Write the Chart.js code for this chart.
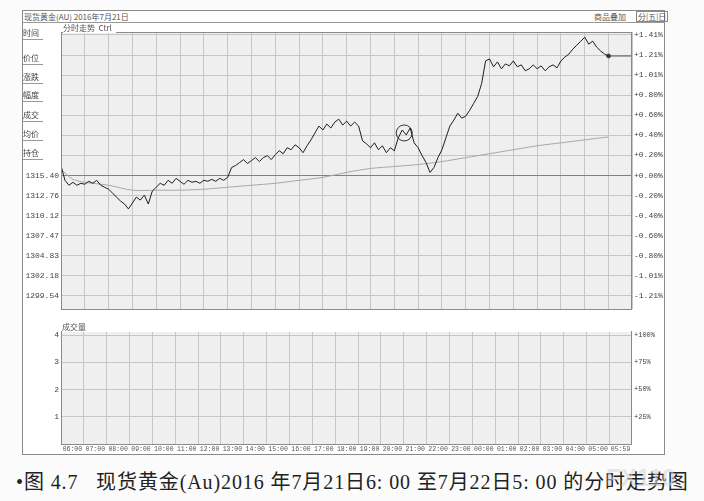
<!DOCTYPE html>
<html><head><meta charset="utf-8">
<script src="https://cdn.jsdelivr.net/npm/chart.js@4.4.0/dist/chart.umd.min.js"></script>
<style>
html,body{margin:0;padding:0;background:#fbfbfb;width:704px;height:501px;overflow:hidden;font-family:"Noto Sans CJK SC",sans-serif;color:#333;}
.a{position:absolute;}
#frame{left:22px;top:10px;width:643px;height:445px;border:1px solid #8a8a8a;box-sizing:border-box;background:#fff;}
.hdr{font-size:8px;line-height:10px;color:#555;white-space:nowrap;}
.side{left:23px;font-size:8px;line-height:9px;color:#444;}
.side:after{content:"";position:absolute;left:0;top:11px;width:20px;border-top:1px solid #999;}
#caption{left:16px;top:471px;font-size:20px;line-height:23px;color:#222;white-space:nowrap;font-family:"Liberation Serif","Noto Sans CJK SC",serif;letter-spacing:0.9px;}
</style></head><body>
<div id="frame" class="a"></div>
<div class="a" style="left:22px;top:22px;width:643px;border-top:1px solid #999;"></div>
<div class="a hdr" style="left:24px;top:12px;">现货黄金(AU) 2016年7月21日</div>
<div class="a hdr" style="left:594px;top:12px;">商品叠加</div>
<div class="a hdr" style="left:636px;top:11px;border:1px solid #888;padding:0 1px;line-height:9px;">分|五|日</div>
<canvas id="pc" class="a" width="643" height="296" style="left:22px;top:22px;"></canvas>
<canvas id="vc" class="a" width="643" height="137" style="left:22px;top:318px;"></canvas>
<div class="a" style="left:23px;top:23px;width:38px;height:147px;background:#fff;"></div>
<div class="a side" style="top:28px;">时间</div>
<div class="a side" style="top:53px;">价位</div>
<div class="a side" style="top:72px;">涨跌</div>
<div class="a side" style="top:90px;">幅度</div>
<div class="a side" style="top:110px;">成交</div>
<div class="a side" style="top:129px;">均价</div>
<div class="a side" style="top:148px;">持仓</div>
<div class="a hdr" style="left:63px;top:23px;background:#fff;padding-right:4px;">分时走势 &nbsp;Ctrl</div>
<div class="a hdr" style="left:62px;top:322px;background:#fff;width:569px;">成交量</div>
<div id="caption" class="a">•图 4.7 &nbsp;&nbsp;现货黄金(Au)2016 年7月21日6: 00 至7月22日5: 00 的分时走势图</div>
<div class="a" style="left:606px;top:464px;font:bold 24px 'Liberation Sans',sans-serif;color:rgba(210,210,210,0.55);">FX110</div>
<script>
// ---- data ----
const basePrice = 1315.40;
const priceStep = 2.643;           // one grid row
const priceTickLabels = ['1315.40','1312.76','1310.12','1307.47','1304.83','1302.18','1299.54'];
const pctTickLabels = ['+1.41%','+1.21%','+1.01%','+0.80%','+0.60%','+0.40%','+0.20%','+0.00%','-0.20%','-0.40%','-0.60%','-0.80%','-1.01%','-1.21%'];
const hourLabels = ['06:00','07:00','08:00','09:00','10:00','11:00','12:00','13:00','14:00','15:00','16:00','17:00','18:00','19:00','20:00','21:00','22:00','23:00','00:00','01:00','02:00','03:00','04:00','05:00','05:59'];
const hourTickMinutes = [0,60,120,180,240,300,360,420,480,540,600,660,720,780,840,900,960,1020,1080,1140,1200,1260,1320,1380,1439];
const volTickLabels = ['1','2','3','4'];
const volPctLabels = ['+25%','+50%','+75%','+100%'];
const sampleMinutes = 10; // price sampled every 10 minutes from 06:00
const price = [
1316.70,1314.75,1314.10,1314.49,1314.10,1314.36,1314.23,1314.62,1314.36,1314.75,
1314.10,1313.84,1313.58,1313.06,1312.54,1312.02,1311.63,1310.98,1311.76,1312.54,
1312.15,1312.80,1311.63,1313.32,1313.84,1314.36,1314.10,1314.75,1314.36,1315.01,
1314.62,1314.23,1314.75,1314.49,1314.62,1314.36,1314.75,1314.62,1314.88,1314.62,
1315.01,1314.75,1315.14,1316.44,1316.70,1317.09,1317.48,1316.96,1317.35,1317.74,
1317.22,1317.74,1318.00,1317.48,1318.13,1318.65,1318.26,1319.04,1318.78,1319.43,
1319.04,1318.39,1319.30,1320.08,1320.99,1321.90,1321.38,1322.16,1321.64,1322.42,
1322.81,1322.03,1322.55,1321.90,1322.42,1321.90,1319.95,1319.56,1319.04,1319.69,
1318.78,1319.30,1318.39,1319.04,1318.65,1320.34,1321.38,1320.73,1321.64,1319.69,
1319.04,1318.00,1317.09,1315.79,1316.44,1317.74,1318.78,1320.34,1321.90,1322.68,
1323.59,1322.94,1323.20,1323.98,1324.89,1325.80,1327.49,1330.48,1330.74,1329.70,
1330.35,1329.44,1330.09,1329.83,1330.48,1329.70,1329.96,1329.18,1329.44,1329.96,
1329.44,1329.83,1329.18,1329.70,1329.96,1329.57,1330.48,1331.00,1331.39,1332.04,
1332.56,1333.08,1333.60,1332.69,1333.08,1332.30,1331.78,1331.39,1331.13];
const avgMinutes = [0,30,60,120,180,240,300,360,420,480,540,600,660,720,780,840,900,960,1020,1080,1140,1200,1260,1320,1380];
const avgPrice = [1316.18,1314.88,1314.49,1314.10,1313.45,1313.45,1313.45,1313.58,1313.84,1314.10,1314.36,1314.75,1315.14,1315.79,1316.31,1316.57,1316.83,1317.22,1317.74,1318.26,1318.78,1319.30,1319.69,1320.08,1320.47];
const markMinute = 865, markPrice = 1320.99;   // circled point
const volume = [];  // no volume shown for spot gold

// ---- build ----
const priceData = price.map((v,i)=>({x:i*sampleMinutes,y:v}));
const avgData = avgPrice.map((v,i)=>({x:avgMinutes[i],y:v}));
const last = priceData[priceData.length-1];
const lastLine = [{x:last.x,y:last.y},{x:1439,y:last.y}];
const kTicks = []; for(let k=-6;k<=7;k++) kTicks.push(k);

const bgPlugin = {id:'bg',beforeDraw(c){const a=c.chartArea,ctx=c.ctx;ctx.save();ctx.fillStyle='#efefef';ctx.fillRect(a.left,a.top,a.right-a.left,a.bottom-a.top);ctx.restore();},
 afterDraw(c){const a=c.chartArea,ctx=c.ctx;ctx.save();ctx.strokeStyle='#8a8a8a';ctx.lineWidth=1;ctx.strokeRect(a.left+0.5,a.top+0.5,a.right-a.left-1,a.bottom-a.top);ctx.restore();}};
Chart.defaults.animation=false;
const mono = {family:"'Liberation Mono','DejaVu Sans Mono',monospace",size:8};

new Chart(document.getElementById('pc'),{
 type:'line',
 data:{datasets:[
  {data:priceData,borderColor:'#1e1e1e',borderWidth:1,pointRadius:0,tension:0},
  {data:avgData,borderColor:'#a8a8a8',borderWidth:1,pointRadius:0,tension:0.3},
  {data:lastLine,borderColor:'#555',borderWidth:1,pointRadius:[2,0],pointBackgroundColor:'#333',tension:0},
  {type:'scatter',data:[{x:markMinute,y:markPrice}],pointRadius:8,pointStyle:'circle',borderColor:'#333',borderWidth:1,backgroundColor:'rgba(0,0,0,0)'}
 ]},
 plugins:[bgPlugin],
 options:{responsive:false,devicePixelRatio:1,events:[],
  layout:{padding:{top:10,bottom:5,left:0,right:0}},
  plugins:{legend:{display:false},tooltip:{enabled:false}},
  scales:{
   x:{type:'linear',min:0,max:1439,
     afterBuildTicks:s=>{s.ticks=hourTickMinutes.map(v=>({value:v}));},
     afterFit:s=>{s.height=0;},
     ticks:{display:false},border:{display:false},
     grid:{color:'#c6c6c6',drawTicks:false}},
   y:{position:'left',min:basePrice-6.66*priceStep,max:basePrice+7.147*priceStep,
     afterBuildTicks:s=>{s.ticks=kTicks.map(k=>({value:basePrice+k*priceStep}));},
     afterFit:s=>{s.width=39;},
     ticks:{autoSkip:false,padding:2,color:'#444',font:mono,
       callback:(v,i)=>{const k=kTicks[i];return k<=0?priceTickLabels[-k]:'';}},
     border:{display:false},
     grid:{drawTicks:false,color:c=>(c.tick&&Math.abs(c.tick.value-basePrice)<0.01)?'#808080':'#c6c6c6'}},
   yr:{position:'right',min:basePrice-6.66*priceStep,max:basePrice+7.147*priceStep,
     afterBuildTicks:s=>{s.ticks=kTicks.map(k=>({value:basePrice+k*priceStep}));},
     afterFit:s=>{s.width=33;},
     ticks:{autoSkip:false,padding:2,color:'#444',font:mono,callback:(v,i)=>pctTickLabels[7-kTicks[i]]},
     border:{display:false},grid:{display:false,drawTicks:false}}
  }}
});

new Chart(document.getElementById('vc'),{
 type:'bar',
 data:{datasets:[{data:volume,backgroundColor:'#333'}]},
 plugins:[bgPlugin],
 options:{responsive:false,devicePixelRatio:1,events:[],
  layout:{padding:{top:13,bottom:0,left:0,right:0}},
  plugins:{legend:{display:false},tooltip:{enabled:false}},
  scales:{
   x:{type:'linear',min:0,max:1439,
     afterBuildTicks:s=>{s.ticks=hourTickMinutes.map(v=>({value:v}));},
     afterFit:s=>{s.height=11;},
     ticks:{autoSkip:false,maxRotation:0,padding:1,color:'#555',font:{family:mono.family,size:6.5},callback:(v,i)=>hourLabels[i]},
     border:{display:false},grid:{color:'#c6c6c6',drawTicks:false}},
   y:{position:'left',min:0,max:4.15,
     afterBuildTicks:s=>{s.ticks=[1,2,3,4].map(v=>({value:v}));},
     afterFit:s=>{s.width=39;},
     ticks:{autoSkip:false,padding:2,color:'#444',font:mono,callback:(v,i)=>volTickLabels[i]},
     border:{display:false},grid:{drawTicks:false,color:'#c6c6c6'}},
   yr:{position:'right',min:0,max:4.15,
     afterBuildTicks:s=>{s.ticks=[1,2,3,4].map(v=>({value:v}));},
     afterFit:s=>{s.width=33;},
     ticks:{autoSkip:false,padding:2,color:'#444',font:{family:mono.family,size:7},callback:(v,i)=>volPctLabels[i]},
     border:{display:false},grid:{display:false,drawTicks:false}}
  }}
});
</script>
</body></html>
